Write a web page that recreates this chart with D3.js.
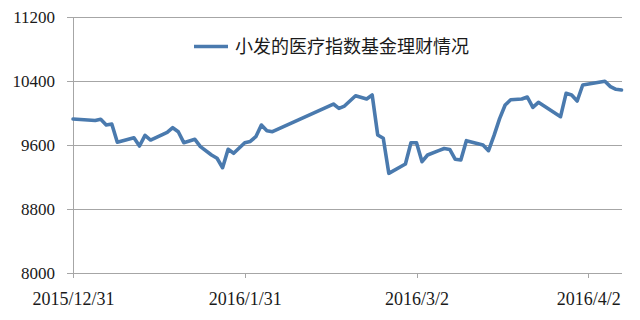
<!DOCTYPE html>
<html>
<head>
<meta charset="utf-8">
<script src="https://cdn.jsdelivr.net/npm/d3@7/dist/d3.min.js"></script>
<style>
	body { margin: 0; background: #fff; }
	svg { display: block; }
</style>
</head>
<body>
<svg width="640" height="320"></svg>
<script>
// chart data
var seriesName = "小发的医疗指数基金理财情况";
var dates = ["2015-12-31","2016-01-04","2016-01-05","2016-01-06","2016-01-07","2016-01-08",
	"2016-01-11","2016-01-12","2016-01-13","2016-01-14","2016-01-17","2016-01-18","2016-01-19",
	"2016-01-20","2016-01-22","2016-01-23","2016-01-25","2016-01-26","2016-01-27","2016-01-28",
	"2016-01-29","2016-01-31","2016-02-01","2016-02-02","2016-02-03","2016-02-04","2016-02-05",
	"2016-02-16","2016-02-17","2016-02-18","2016-02-20","2016-02-22","2016-02-23","2016-02-24",
	"2016-02-25","2016-02-26","2016-02-29","2016-03-01","2016-03-02","2016-03-03","2016-03-04",
	"2016-03-06","2016-03-07","2016-03-08","2016-03-09","2016-03-10","2016-03-11","2016-03-14",
	"2016-03-15","2016-03-16","2016-03-17","2016-03-18","2016-03-19","2016-03-21","2016-03-22",
	"2016-03-23","2016-03-24","2016-03-28","2016-03-29","2016-03-30","2016-03-31","2016-04-01",
	"2016-04-05","2016-04-06","2016-04-07","2016-04-08"];
var values = [9925,9906,9922,9850,9862,9634,
	9690,9587,9720,9662,9758,9816,9766,
	9629,9671,9579,9475,9434,9316,9546,
	9496,9629,9645,9704,9850,9779,9766,
	10112,10058,10087,10216,10175,10225,9725,
	9684,9246,9362,9629,9629,9391,9475,
	9529,9556,9544,9421,9412,9654,9600,
	9529,9720,9930,10100,10165,10175,10200,
	10071,10133,9954,10246,10225,10150,10350,
	10396,10330,10296,10288];
var yTicks = [8000, 8800, 9600, 10400, 11200];
var xTicks = ["2015-12-31","2016-01-31","2016-03-02","2016-04-02"];
var xDomain = ["2015-12-31","2016-04-08"];

function draw_chart(){
	var svg = d3.select("svg"),
			left = 73, right = 621.5,
			top = 17, bottom = 273;
	var parse = d3.timeParse("%Y-%m-%d"),
			fmt = d3.timeFormat("%Y/%-m/%-d");
	var serif = "'Liberation Serif', 'Times New Roman', serif";

	var data = dates.map(function(d, i) { return {date: parse(d), value: values[i]}; });

	var xScale = d3.scaleTime().domain(xDomain.map(parse)).range([left, right]),
			yScale = d3.scaleLinear().domain([8000, 11200]).range([bottom, top]);

	// gridlines + small left ticks
	var grid = svg.append("g")
		.attr("transform", "translate(" + (left - 6) + ",0)")
		.call(d3.axisRight(yScale).tickValues(yTicks).tickSize(right - left + 6).tickFormat(""));
	grid.select(".domain").remove();
	grid.selectAll("line").attr("stroke", "#a6a6a6").attr("shape-rendering", "crispEdges");

	// y labels
	var yAxis = svg.append("g")
		.attr("transform", "translate(" + left + ",0)")
		.call(d3.axisLeft(yScale).tickValues(yTicks).tickSize(0).tickPadding(18)
			.tickFormat(function(d) { return d; }))
		.attr("font-family", serif)
		.attr("font-size", 17);
	yAxis.select(".domain").attr("stroke", "#a6a6a6").attr("shape-rendering", "crispEdges");
	yAxis.selectAll("text").attr("fill", "#1a1a1a");

	// x axis
	var xAxis = svg.append("g")
		.attr("transform", "translate(0," + bottom + ")")
		.call(d3.axisBottom(xScale).tickValues(xTicks.map(parse)).tickSize(5).tickSizeOuter(0)
			.tickPadding(14).tickFormat(fmt))
		.attr("font-family", serif)
		.attr("font-size", 18);
	xAxis.select(".domain").remove();
	xAxis.selectAll("line").attr("stroke", "#a6a6a6").attr("shape-rendering", "crispEdges");
	xAxis.selectAll("text").attr("fill", "#1a1a1a");

	// series line
	var line = d3.line()
		.x(function(d) { return xScale(d.date); })
		.y(function(d) { return yScale(d.value); });
	svg.append("path")
		.datum(data)
		.attr("fill", "none")
		.attr("stroke", "#4a7aae")
		.attr("stroke-width", 3.6)
		.attr("stroke-linejoin", "round")
		.attr("stroke-linecap", "round")
		.attr("d", line);

	// legend
	var lg = svg.append("g").attr("transform", "translate(194,46.5)");
	lg.append("line")
		.attr("x1", 0).attr("x2", 34)
		.attr("stroke", "#4a7aae")
		.attr("stroke-width", 3.6);
	lg.append("text")
		.attr("x", 41)
		.attr("dy", "0.36em")
		.attr("font-family", "'Noto Sans CJK SC', sans-serif")
		.attr("font-size", "18px")
		.attr("fill", "#1a1a1a")
		.text(seriesName);
}

draw_chart();
</script>
</body>
</html>
